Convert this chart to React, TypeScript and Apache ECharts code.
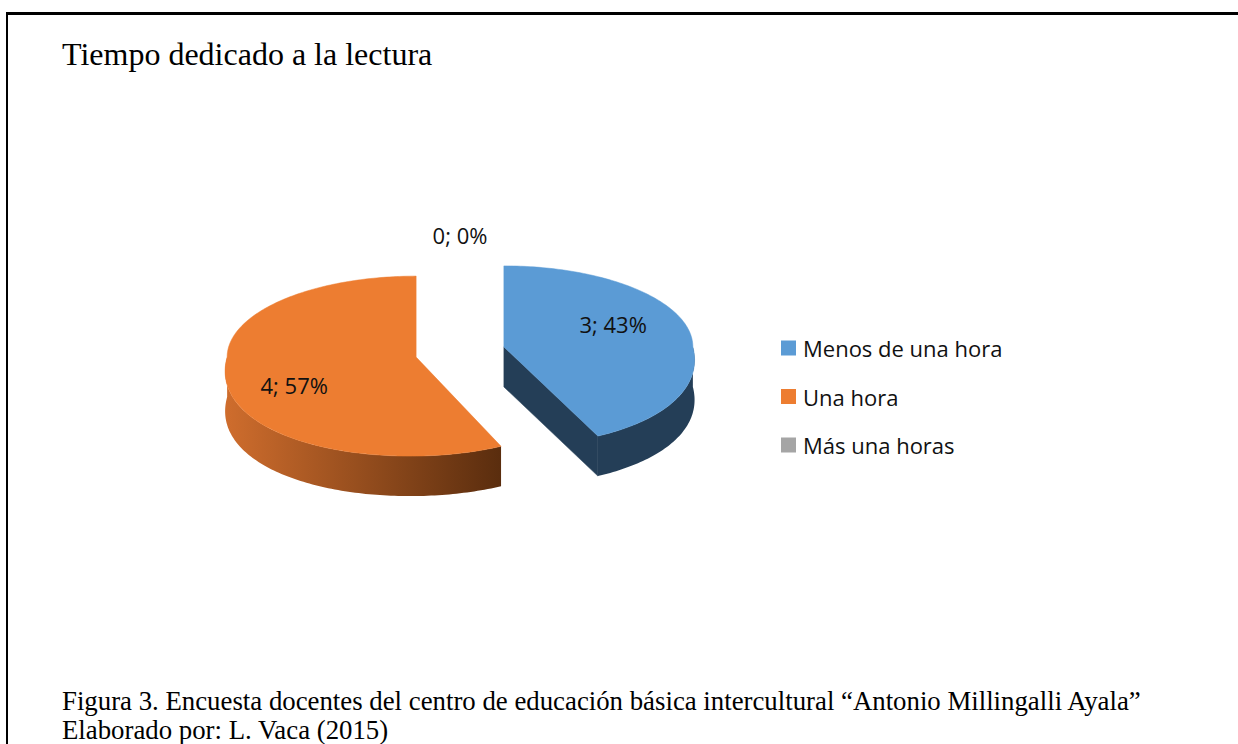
import React, { useEffect, useRef } from 'react';
import * as echarts from 'echarts';

const TITLE = 'Tiempo dedicado a la lectura';
const CATEGORIES = ['Menos de una hora', 'Una hora', 'Más una horas'];
const VALUES = [3, 4, 0];
const FOOTER_LINES = [
  'Figura 3. Encuesta docentes del centro de educación básica intercultural “Antonio Millingalli Ayala”',
  'Elaborado por: L. Vaca (2015)',
];

const TOP_COLORS = ['#5b9bd5', '#ed7d31', '#a5a5a5'];
const SIDE_COLORS = [
  ['#243e57', '#243e57'],
  ['#cf6d2d', '#5a2d0e'],
  ['#707070', '#4a4a4a'],
];

// pseudo-3D pie geometry
const CX = 460;
const CY = 352;
const RX = 189;
const RY_BACK = 81;
const RY_FRONT = 99;
const DEPTH = 40;
const EXP_X = 45;
const EXP_Y = 23;
const VANISH_X = 470;
const PERSP = 0.115;

const rad = (d: number) => (d * Math.PI) / 180;

function pt(cx: number, cy: number, deg: number, k = 1): number[] {
  const s = Math.sin(rad(deg));
  const c = Math.cos(rad(deg));
  const ry = c > 0 ? RY_BACK : RY_FRONT;
  const nx = cx + RX * k * s;
  const scale = 1 - PERSP * k * Math.min(c, 0);
  return [VANISH_X + (nx - VANISH_X) * scale, cy - ry * k * c];
}

function arc(cx: number, cy: number, a0: number, a1: number, dy = 0): number[][] {
  const n = Math.max(2, Math.ceil(Math.abs(a1 - a0)) + 1);
  const pts: number[][] = [];
  for (let i = 0; i < n; i++) {
    const a = a0 + ((a1 - a0) * i) / (n - 1);
    const p = pt(cx, cy, a);
    pts.push([p[0], p[1] + dy]);
  }
  return pts;
}

export default function App() {
  const ref = useRef<HTMLDivElement>(null);

  useEffect(() => {
    if (!ref.current) return;
    const chart = echarts.init(ref.current, null, { renderer: 'svg' });
    const total = VALUES.reduce((a, b) => a + b, 0);

    const renderItem = (params: any, api: any) => {
      const i = params.dataIndex;
      const v = api.value(0);
      let start = 0;
      for (let j = 0; j < i; j++) start += (VALUES[j] / total) * 360;
      const sweep = (v / total) * 360;
      const end = start + sweep;
      const mid = sweep > 0 ? start + sweep / 2 : start === 0 ? 360 : start;
      const hasArea = sweep > 0;
      const ox = hasArea ? EXP_X * Math.sin(rad(mid)) : 0;
      const oy = hasArea ? -EXP_Y * Math.cos(rad(mid)) : 0;
      const cx = CX + ox;
      const cy = CY + oy;
      const apex = pt(cx, cy, 0, 0);
      const children: any[] = [];

      if (hasArea) {
        const sideFlat = SIDE_COLORS[i][1];
        const gradient = {
          type: 'linear', x: 0, y: 0, x2: 1, y2: 0,
          colorStops: [
            { offset: 0, color: SIDE_COLORS[i][0] },
            { offset: 1, color: SIDE_COLORS[i][1] },
          ],
        };
        const radial = (a: number) => {
          const p = pt(cx, cy, a);
          return {
            type: 'polygon',
            shape: { points: [apex, p, [p[0], p[1] + DEPTH], [apex[0], apex[1] + DEPTH]] },
            style: { fill: sideFlat, stroke: sideFlat, lineWidth: 0.5 },
          };
        };
        if (Math.sin(rad(end)) > 0.01) children.push(radial(end));
        if (Math.sin(rad(start)) < -0.01) children.push(radial(start));
        const t0 = Math.max(start, 90);
        const t1 = Math.min(end, 270);
        if (t1 > t0) {
          const topArc = arc(cx, cy, t0, t1);
          const botArc = arc(cx, cy, t1, t0, DEPTH);
          children.push({
            type: 'polygon',
            shape: { points: topArc.concat(botArc) },
            style: { fill: gradient, stroke: 'none' },
          });
        }
        children.push({
          type: 'polygon',
          shape: { points: [apex].concat(arc(cx, cy, start, end)) },
          style: { fill: TOP_COLORS[i], stroke: TOP_COLORS[i], lineWidth: 0.5 },
        });
      }

      const c = Math.cos(rad(mid));
      const s = Math.sin(rad(mid));
      let lx: number;
      let ly: number;
      if (hasArea) {
        const ry = c > 0 ? RY_BACK : RY_FRONT;
        lx = pt(cx, cy, mid, 0.62)[0] - 5;
        ly = cy - ry * 1.25 * c;
      } else {
        lx = CX + RX * 1.2 * s;
        ly = CY - RY_BACK * 1.44 * c;
      }
      children.push({
        type: 'text',
        x: lx,
        y: ly,
        style: {
          text: `${v}; ${Math.round((v / total) * 100)}%`,
          fill: '#111',
          fontFamily: 'Open Sans',
          fontSize: 22,
          align: 'center',
          verticalAlign: 'middle',
        },
      });
      return { type: 'group', children };
    };

    chart.setOption({
      animation: false,
      backgroundColor: '#fff',
      title: {
        text: TITLE,
        left: 62,
        top: 38,
        padding: 0,
        textStyle: {
          fontFamily: 'Liberation Serif',
          fontSize: 32,
          fontWeight: 'normal',
          color: '#000',
        },
      },
      legend: {
        orient: 'vertical',
        left: 781,
        top: 337,
        padding: 0,
        itemWidth: 15,
        itemHeight: 15,
        itemGap: 26.5,
        icon: 'rect',
        selectedMode: false,
        data: CATEGORIES,
        textStyle: {
          fontFamily: 'Open Sans',
          fontSize: 22,
          lineHeight: 22,
          color: '#111',
          padding: [0, 0, 0, 2],
        },
      },
      graphic: [
        { type: 'rect', shape: { x: 6, y: 12, width: 1232, height: 3 }, style: { fill: '#000' } },
        { type: 'rect', shape: { x: 6, y: 12, width: 2, height: 732 }, style: { fill: '#000' } },
        {
          type: 'text', x: 62, y: 701,
          style: { text: FOOTER_LINES[0], fontFamily: 'Liberation Serif', fontSize: 26.8, fill: '#000', verticalAlign: 'middle' },
        },
        {
          type: 'text', x: 62, y: 730,
          style: { text: FOOTER_LINES[1], fontFamily: 'Liberation Serif', fontSize: 26.8, fill: '#000', verticalAlign: 'middle' },
        },
      ],
      series: [
        {
          type: 'pie',
          center: [-200, -200],
          radius: 1,
          silent: true,
          label: { show: false },
          labelLine: { show: false },
          data: CATEGORIES.map((name, i) => ({ name, value: VALUES[i], itemStyle: { color: TOP_COLORS[i] } })),
        },
        {
          type: 'custom',
          coordinateSystem: 'none',
          silent: true,
          renderItem,
          data: CATEGORIES.map((name, i) => ({ name, value: [VALUES[i]] })),
        },
      ],
    });
    return () => chart.dispose();
  }, []);

  return (
    <div
      ref={ref}
      style={{ position: 'fixed', left: 0, top: 0, width: 1238, height: 744, background: '#fff' }}
    />
  );
}
